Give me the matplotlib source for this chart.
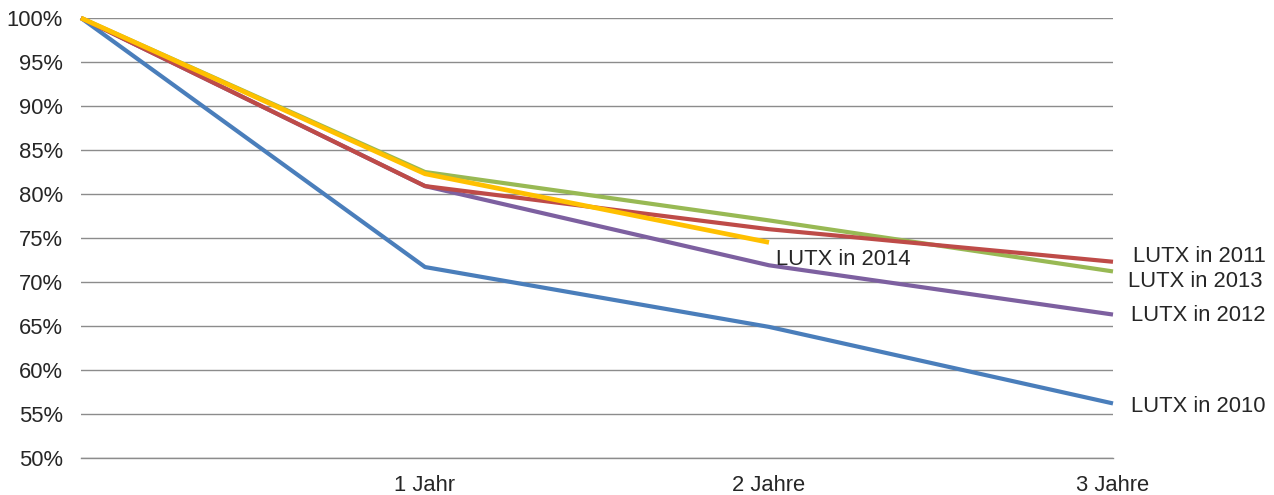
import matplotlib
matplotlib.use("Agg")
import matplotlib.pyplot as plt

plt.rcParams['font.family'] = ['Liberation Sans', 'DejaVu Sans']

x_labels = ["", "1 Jahr", "2 Jahre", "3 Jahre"]
y_ticks = [50, 55, 60, 65, 70, 75, 80, 85, 90, 95, 100]

lutx_2010 = [100, 71.7, 64.9, 56.2]
lutx_2011 = [100, 80.9, 76.0, 72.3]
lutx_2012 = [100, 80.9, 71.9, 66.3]
lutx_2013 = [100, 82.5, 77.0, 71.2]
lutx_2014 = [100, 82.3, 74.5]

series = [
    ("LUTX in 2010", lutx_2010, "#4A7EBB", 3.0),
    ("LUTX in 2013", lutx_2013, "#98B954", 3.0),
    ("LUTX in 2012", lutx_2012, "#7D60A0", 3.0),
    ("LUTX in 2011", lutx_2011, "#BE4B48", 3.0),
    ("LUTX in 2014", lutx_2014, "#FFC000", 3.4),
]

# label anchor positions (x in category units, y in percent)
label_pos = {
    "LUTX in 2011": (3.058, 72.95),
    "LUTX in 2013": (3.044, 70.1),
    "LUTX in 2012": (3.052, 66.15),
    "LUTX in 2010": (3.052, 55.9),
    "LUTX in 2014": (2.020, 72.6),
}

fig = plt.figure(figsize=(12.74, 4.95), dpi=100)
ax = fig.add_axes([81 / 1274, 1 - 458 / 495, (1113 - 81) / 1274, (458 - 18) / 495])

for name, vals, color, lw in series:
    ax.plot(range(len(vals)), vals, color=color, lw=lw,
            solid_capstyle="butt", zorder=3, clip_on=False)

ax.set_xlim(0, 3)
ax.set_ylim(50, 100)
ax.set_yticks(y_ticks)
ax.set_yticklabels([f"{v}%" for v in y_ticks])
ax.set_xticks(range(4))
ax.set_xticklabels(x_labels)
ax.grid(axis="y", color="#8C8C8C", lw=1.0)
ax.set_axisbelow(True)
for s in ax.spines.values():
    s.set_visible(False)
ax.spines["bottom"].set_visible(True)
ax.spines["bottom"].set_color("#8C8C8C")
ax.spines["bottom"].set_linewidth(1.0)
ax.tick_params(length=0, labelsize=15.8, colors="#262626")
ax.tick_params(axis="y", pad=13)
ax.tick_params(axis="x", pad=12)

for name, (lx, ly) in label_pos.items():
    ax.text(lx, ly, name, fontsize=15.8, color="#262626",
            va="center", ha="left", clip_on=False)

fig.savefig("out.png", dpi=100)
